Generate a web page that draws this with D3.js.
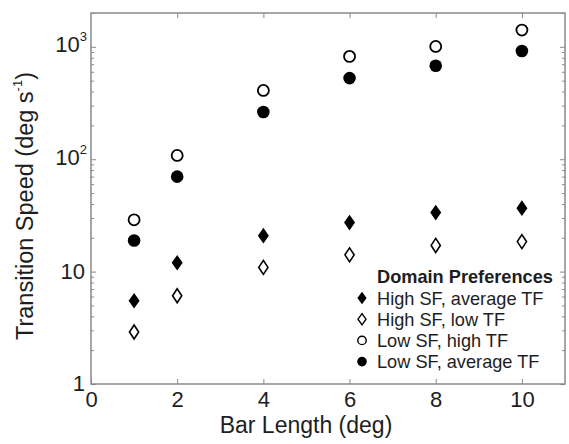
<!DOCTYPE html>
<html>
<head>
<meta charset="utf-8">
<script src="https://cdn.jsdelivr.net/npm/d3@7"></script>
<style>
  body { margin: 0; background: #fff; }
  svg { font-family: Arial, 'Liberation Sans', sans-serif; }
</style>
</head>
<body>
<svg id="chart"></svg>
<script>
const barLength = [1, 2, 4, 6, 8, 10];
const highSFavgTF = [5.5, 12.0, 20.9, 27.3, 33.5, 36.7];
const highSFlowTF = [2.9, 6.1, 10.9, 14.1, 17.1, 18.5];
const lowSFhighTF = [28.9, 108, 409, 822, 1008, 1410];
const lowSFavgTF = [18.9, 70, 263, 527, 679, 917];
const xTicks = [0, 2, 4, 6, 8, 10];
const yMajor = [1, 10, 100, 1000];
const seriesNames = ['High SF, average TF', 'High SF, low TF', 'Low SF, high TF', 'Low SF, average TF'];

const margin = { top: 13, right: 4, bottom: 60, left: 91 };
const width = 569 - margin.left - margin.right;
const height = 444 - margin.top - margin.bottom;
const axisColor = '#8a8a8a';
const textColor = '#1e1e1e';

const svg = d3.select('#chart')
  .attr('width', 569)
  .attr('height', 444);

const g = svg.append('g')
  .attr('transform', `translate(${margin.left},${margin.top})`);

const x = d3.scaleLinear().domain([0, 11]).range([0, width]);
const y = d3.scaleLog().domain([1, 2000]).range([height, 0]);

const yMinor = [];
[1, 10, 100, 1000].forEach(d => {
  for (let k = 2; k <= 9; k++) if (d * k <= 2000) yMinor.push(d * k);
});

// frame
g.append('rect')
  .attr('width', width)
  .attr('height', height)
  .attr('fill', 'none')
  .attr('stroke', axisColor)
  .attr('stroke-width', 1.5);

const styleAxis = sel => {
  sel.select('.domain').remove();
  sel.selectAll('line').attr('stroke', axisColor);
};

// bottom / top ticks
g.append('g')
  .attr('transform', `translate(0,${height})`)
  .call(d3.axisBottom(x).tickValues(xTicks).tickSize(-5).tickPadding(7).tickFormat(d3.format('d')))
  .call(styleAxis)
  .selectAll('text')
  .attr('font-size', 22)
  .attr('fill', textColor);

g.append('g')
  .call(d3.axisTop(x).tickValues(xTicks.filter(d => d > 0)).tickSize(-5).tickFormat(''))
  .call(styleAxis);

// left / right, major + minor
g.append('g')
  .call(d3.axisLeft(y).tickValues(yMajor).tickSize(-5).tickFormat(''))
  .call(styleAxis);

g.append('g')
  .call(d3.axisLeft(y).tickValues(yMinor).tickSize(-3).tickFormat(''))
  .call(styleAxis);

g.append('g')
  .attr('transform', `translate(${width},0)`)
  .call(d3.axisRight(y).tickValues(yMajor).tickSize(-5).tickFormat(''))
  .call(styleAxis);

g.append('g')
  .attr('transform', `translate(${width},0)`)
  .call(d3.axisRight(y).tickValues(yMinor).tickSize(-3).tickFormat(''))
  .call(styleAxis);

// y tick labels
const yLab = g.append('g')
  .attr('font-size', 22)
  .attr('fill', textColor)
  .attr('text-anchor', 'end');

yMajor.forEach(d => {
  const exp = Math.round(Math.log10(d));
  const t = yLab.append('text')
    .attr('x', exp >= 2 ? -4 : -6)
    .attr('y', y(d))
    .attr('dy', exp >= 2 ? '0.25em' : (d === 1 ? '0.3em' : '0.35em'));
  if (exp >= 2) {
    t.append('tspan').text('10');
    t.append('tspan').attr('font-size', 13).attr('dy', '-0.85em').text(exp);
  } else {
    t.text(d);
  }
});

// axis titles
svg.append('text')
  .attr('x', 306)
  .attr('y', 433)
  .attr('text-anchor', 'middle')
  .attr('font-size', 23)
  .attr('fill', textColor)
  .text('Bar Length (deg)');

const yt = svg.append('text')
  .attr('transform', `translate(33,206) rotate(-90)`)
  .attr('text-anchor', 'middle')
  .attr('font-size', 23.5)
  .attr('fill', textColor);
yt.append('tspan').text('Transition Speed (deg s');
yt.append('tspan').attr('font-size', 13).attr('dy', '-0.85em').text('-1');
yt.append('tspan').attr('dy', '0.47em').text(')');

// markers
const diamond = (cx, cy, hw, hh) =>
  `M${cx},${cy - hh}L${cx + hw},${cy}L${cx},${cy + hh}L${cx - hw},${cy}Z`;

const series = [
  { vals: highSFavgTF, shape: 'diamond', filled: true },
  { vals: highSFlowTF, shape: 'diamond', filled: false },
  { vals: lowSFhighTF, shape: 'circle', filled: false },
  { vals: lowSFavgTF, shape: 'circle', filled: true }
];

series.forEach(s => {
  const pts = barLength.map((b, i) => ({ b, v: s.vals[i] }));
  if (s.shape === 'circle') {
    g.selectAll(null).data(pts).enter().append('circle')
      .attr('cx', d => x(d.b))
      .attr('cy', d => y(d.v))
      .attr('r', s.filled ? 6.3 : 5.5)
      .attr('fill', s.filled ? '#000' : '#fff')
      .attr('stroke', '#000')
      .attr('stroke-width', s.filled ? 0 : 1.8);
  } else {
    g.selectAll(null).data(pts).enter().append('path')
      .attr('d', d => diamond(x(d.b), y(d.v), s.filled ? 5.5 : 4.6, s.filled ? 7.8 : 7))
      .attr('fill', s.filled ? '#000' : '#fff')
      .attr('stroke', '#000')
      .attr('stroke-width', s.filled ? 0 : 1.6);
  }
});

// legend
const legend = svg.append('g')
  .attr('font-size', 18.2)
  .attr('fill', textColor);

legend.append('text')
  .attr('x', 377)
  .attr('y', 283)
  .attr('font-weight', 'bold')
  .text('Domain Preferences');

series.forEach((s, i) => {
  const cy = 298 + i * 21.2;
  if (s.shape === 'circle') {
    legend.append('circle')
      .attr('cx', 362).attr('cy', cy)
      .attr('r', s.filled ? 4.8 : 4.2)
      .attr('fill', s.filled ? '#000' : '#fff')
      .attr('stroke', '#000')
      .attr('stroke-width', s.filled ? 0 : 1.4);
  } else {
    legend.append('path')
      .attr('d', diamond(362, cy, s.filled ? 4.6 : 4, s.filled ? 6.3 : 5.6))
      .attr('fill', s.filled ? '#000' : '#fff')
      .attr('stroke', '#000')
      .attr('stroke-width', s.filled ? 0 : 1.4);
  }
  legend.append('text')
    .attr('x', 377)
    .attr('y', cy)
    .attr('dy', '0.36em')
    .text(seriesNames[i]);
});
</script>
</body>
</html>
